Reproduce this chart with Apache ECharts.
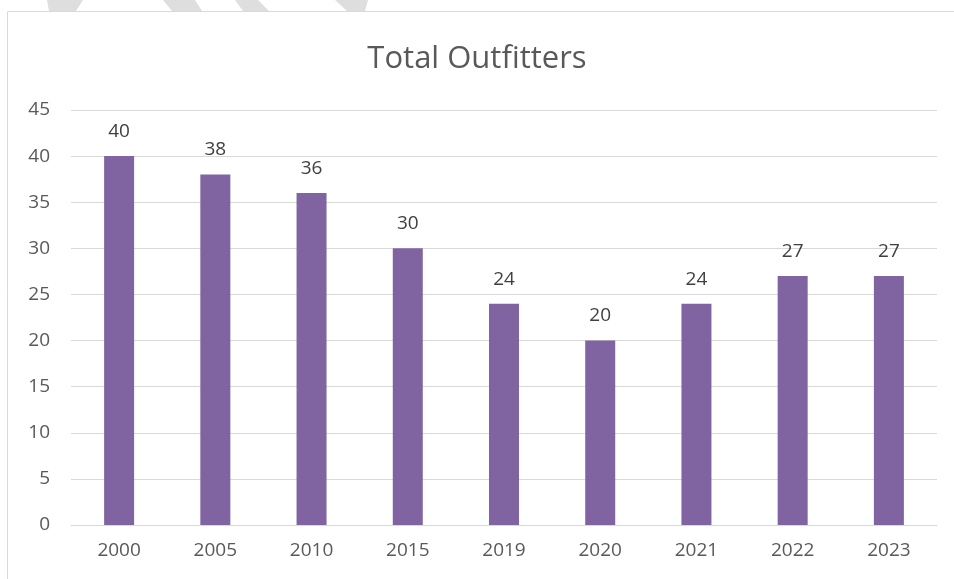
<!DOCTYPE html>
<html><head><meta charset="utf-8">
<script src="https://cdn.jsdelivr.net/npm/echarts@6/dist/echarts.min.js"></script>
<style>html,body{margin:0;padding:0;background:#fff}#c{width:954px;height:579px}</style>
</head><body><div id="c"></div>
<script>
const categories = ['2000','2005','2010','2015','2019','2020','2021','2022','2023'];
const outfitters = [40, 38, 36, 30, 24, 20, 24, 27, 27];
const yTicks = [0, 5, 10, 15, 20, 25, 30, 35, 40, 45];

const chart = echarts.init(document.getElementById('c'));
const FONT = '"Open Sans", "Liberation Sans", sans-serif';
chart.setOption({
  animation: false,
  title: {
    text: 'Total Outfitters', left: 'center', top: 39,
    textStyle: { fontFamily: FONT, fontSize: 31, fontWeight: 'normal', color: '#595959' }
  },
  graphic: [
    { type: 'rect', shape: { x: 7.5, y: 11.5, width: 960, height: 600 },
      style: { fill: 'none', stroke: '#d9d9d9', lineWidth: 1 }, z: -1 },
    { type: 'polygon', shape: { points: [[47,0],[83,0],[76,11],[49,11]] }, style: { fill: '#dedede' } },
    { type: 'polygon', shape: { points: [[163,0],[195,0],[202,11],[172,11]] }, style: { fill: '#dedede' } },
    { type: 'polygon', shape: { points: [[235,0],[258,0],[269,11],[243,11]] }, style: { fill: '#dedede' } },
    { type: 'polygon', shape: { points: [[335,0],[368,0],[365,11],[347,11]] }, style: { fill: '#dedede' } }
  ],
  grid: { left: 71, right: 17, top: 110, bottom: 54 },
  xAxis: {
    type: 'category', data: categories,
    axisLine: { lineStyle: { color: '#d9d9d9' } },
    axisTick: { show: false },
    axisLabel: { fontFamily: FONT, fontSize: 19, color: '#595959', margin: 16 }
  },
  yAxis: {
    type: 'value', min: yTicks[0], max: yTicks[yTicks.length - 1], interval: 5,
    axisLine: { show: false }, axisTick: { show: false },
    splitLine: { lineStyle: { color: '#d9d9d9' } },
    axisLabel: { fontFamily: FONT, fontSize: 19, color: '#595959', margin: 21 }
  },
  series: [{
    type: 'bar', data: outfitters, barWidth: 30,
    itemStyle: { color: '#8064a2' },
    label: { show: true, position: 'top', distance: 15, fontFamily: FONT, fontSize: 19, color: '#404040' }
  }]
});
</script></body></html>
